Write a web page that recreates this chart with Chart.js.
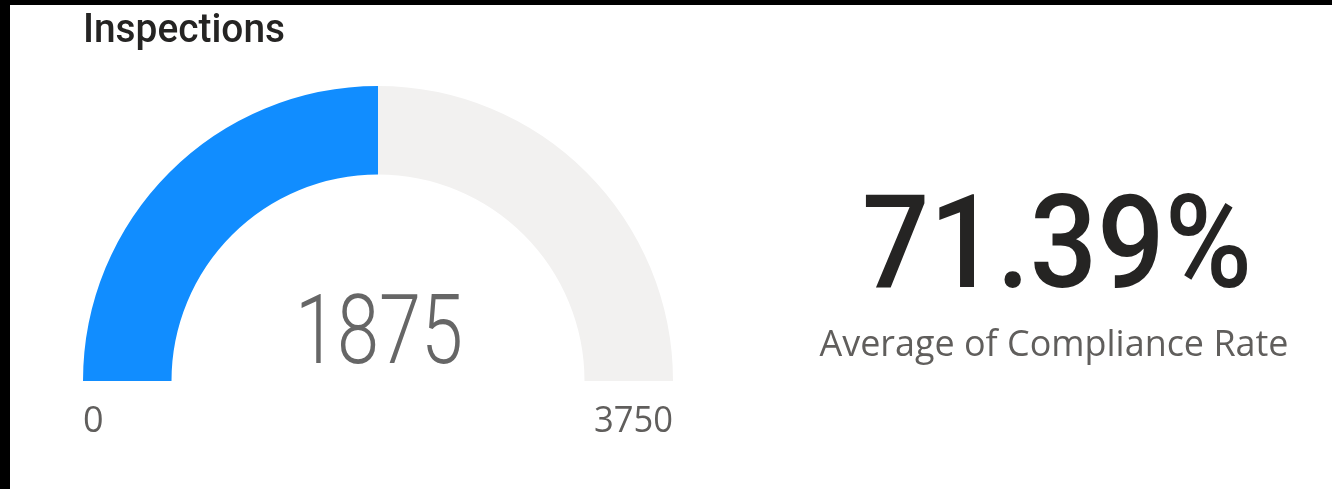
<!DOCTYPE html>
<html>
<head>
<meta charset="utf-8">
<script src="https://cdn.jsdelivr.net/npm/chart.js@4/dist/chart.umd.min.js"></script>
<style>
  html, body { margin: 0; padding: 0; background: #000; }
  #page { position: absolute; left: 10px; top: 5px; width: 1322px; height: 484px; background: #fff; }
  #gauge { position: absolute; left: 0; top: 0; }
</style>
</head>
<body>
<div id="page"></div>
<canvas id="gauge" width="1332" height="489"></canvas>
<script>
// gauge data
var gaugeTitle = ['Inspections'];
var gaugeValue = [1875];
var gaugeRange = [0, 3750];
// card data
var cardValue = [71.39];
var cardLabel = ['Average of Compliance Rate'];

var BLUE = '#118DFF';
var TRACK = '#F2F1F0';

// draws text squeezed/stretched to a given width
function fitText(ctx, text, x, y, width, align) {
  var w = ctx.measureText(text).width;
  var sx = width / w;
  ctx.save();
  ctx.translate(x, y);
  ctx.scale(sx, 1);
  ctx.textAlign = align;
  ctx.fillText(text, 0, 0);
  ctx.restore();
}

var gaugeText = {
  id: 'gaugeText',
  afterDraw: function (chart) {
    var ctx = chart.ctx;
    var area = chart.chartArea;
    var arc = chart.getDatasetMeta(0).data[0];
    ctx.save();
    ctx.textBaseline = 'alphabetic';

    // title
    ctx.fillStyle = '#252423';
    ctx.font = '500 40px Roboto';
    fitText(ctx, gaugeTitle[0], 83, 42, 202, 'left');

    // value in the middle of the gauge
    ctx.fillStyle = '#666666';
    ctx.font = '300 97px Roboto';
    fitText(ctx, String(gaugeValue[0]), arc.x + 1, arc.y - 18, 168, 'center');

    // min / max
    ctx.fillStyle = '#605E5C';
    ctx.font = '36px "Open Sans"';
    ctx.textAlign = 'left';
    ctx.fillText(String(gaugeRange[0]), area.left, 432);
    fitText(ctx, String(gaugeRange[1]), area.right, 432, 79, 'right');

    // card
    ctx.fillStyle = '#252423';
    ctx.font = '500 129px Roboto';
    fitText(ctx, cardValue[0].toFixed(2) + '%', 1057, 287, 390, 'center');
    ctx.fillStyle = '#605E5C';
    ctx.font = '36px "Open Sans"';
    fitText(ctx, cardLabel[0], 1054, 356, 469, 'center');
    ctx.restore();
  }
};

new Chart(document.getElementById('gauge'), {
  type: 'doughnut',
  data: {
    labels: ['Value', 'Remaining'],
    datasets: [{
      data: [gaugeValue[0] - gaugeRange[0], gaugeRange[1] - gaugeValue[0]],
      backgroundColor: [BLUE, TRACK],
      borderWidth: 0
    }]
  },
  options: {
    responsive: false,
    animation: false,
    rotation: -90,
    circumference: 180,
    cutout: '70%',
    layout: { padding: { left: 83, right: 659, top: 86, bottom: 108 } },
    plugins: {
      legend: { display: false },
      tooltip: { enabled: false },
      title: { display: false }
    }
  },
  plugins: [gaugeText]
});
</script>
</body>
</html>
